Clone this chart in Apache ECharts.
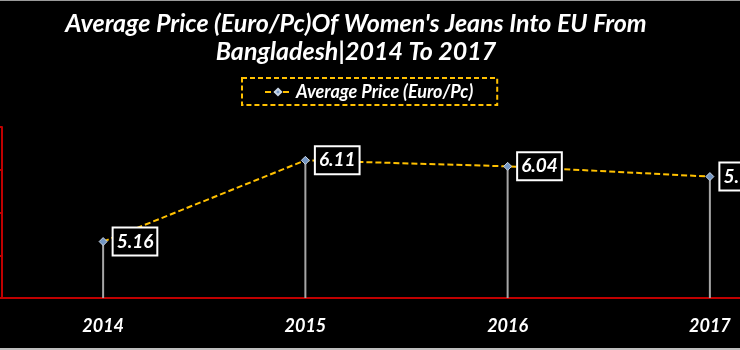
<!DOCTYPE html>
<html>
<head>
<meta charset="utf-8">
<script src="https://cdn.jsdelivr.net/npm/echarts@6/dist/echarts.min.js"></script>
<style>
html,body{margin:0;padding:0;background:#000;}
#chart{width:740px;height:350px;}
</style>
</head>
<body>
<div id="chart"></div>
<script>
var categories = ['2014', '2015', '2016', '2017'];
var avgPrice = [5.16, 6.11, 6.04, 5.92];
var seriesName = 'Average Price (Euro/Pc)';
var titleText = "Average Price (Euro/Pc)Of Women's Jeans Into EU From\nBangladesh|2014 To 2017";

var FONT = 'Lato';
var chart = echarts.init(document.getElementById('chart'), null, {renderer: 'canvas'});
chart.setOption({
  backgroundColor: '#000',
  animation: false,
  title: {
    text: titleText,
    left: 351,
    textAlign: 'center',
    top: 5,
    textStyle: {color: '#fff', fontFamily: FONT, fontSize: 25, fontWeight: 'bold', fontStyle: 'italic', lineHeight: 28}
  },
  legend: {
    data: [seriesName],
    left: 242,
    top: 78,
    padding: [5, 24, 4, 22],
    borderColor: '#FFC000',
    borderWidth: 2,
    borderType: [5, 3],
    itemWidth: 26,
    itemHeight: 8,
    itemGap: 6,
    textStyle: {color: '#fff', fontFamily: FONT, fontSize: 18, fontWeight: 'bold', fontStyle: 'italic'}
  },
  grid: {left: 2, top: 127, right: -71, bottom: 52, outerBoundsMode: 'none', containLabel: false},
  xAxis: {
    type: 'category',
    data: categories,
    boundaryGap: true,
    axisLine: {lineStyle: {color: '#C00000', width: 2}},
    axisTick: {show: false},
    axisLabel: {color: '#fff', fontFamily: FONT, fontSize: 18, fontWeight: 'bold', fontStyle: 'italic', margin: 19}
  },
  yAxis: {
    type: 'value',
    min: 4.5,
    max: 6.5,
    interval: 0.5,
    axisLine: {show: true, lineStyle: {color: '#C00000', width: 2}},
    axisTick: {show: true, length: 3, lineStyle: {color: '#C00000', width: 2}},
    axisLabel: {show: false},
    splitLine: {show: false}
  },
  series: [
    {
      name: 'drop',
      type: 'bar',
      data: avgPrice,
      barWidth: 2,
      itemStyle: {color: '#a6a6a6'},
      silent: true,
      z: 1
    },
    {
      name: seriesName,
      type: 'line',
      data: avgPrice,
      symbol: 'diamond',
      symbolSize: 8,
      itemStyle: {color: '#7396c4', borderColor: '#c8d4e4', borderWidth: 1},
      lineStyle: {color: '#FFC000', width: 2, type: [6, 3]},
      z: 3,
      label: {
        show: true,
        position: 'right',
        distance: 6,
        color: '#fff',
        fontFamily: FONT,
        fontSize: 19,
        fontWeight: 'bold',
        fontStyle: 'italic',
        backgroundColor: '#000',
        borderColor: '#fff',
        borderWidth: 2,
        padding: [4, 3, 3, 3]
      }
    }
  ],
  graphic: [
    {type: 'rect', shape: {x: 0, y: 0, width: 740, height: 1}, style: {fill: '#9a9a9a'}},
    {type: 'rect', shape: {x: 0, y: 348, width: 740, height: 2}, style: {fill: '#bdbdbd'}}
  ]
});
</script>
</body>
</html>
